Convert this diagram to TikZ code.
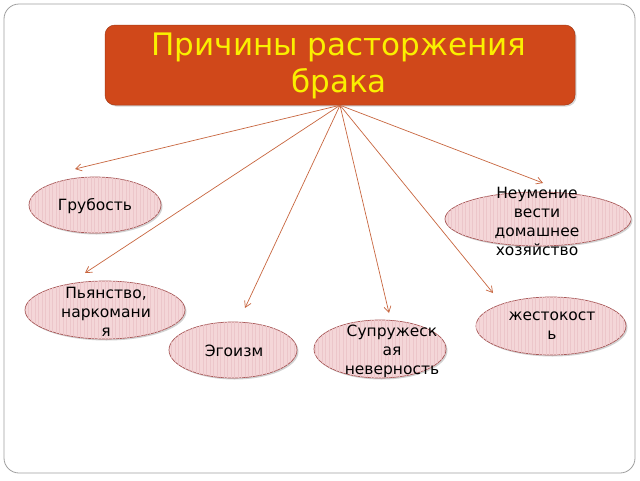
\documentclass[tikz,border=0pt]{standalone}
\usepackage{fontspec}
\setmainfont{DejaVu Sans}
\usetikzlibrary{shapes.geometric,arrows.meta,shadows,patterns.meta}
\definecolor{titlefill}{HTML}{D0481A}
\definecolor{titletext}{HTML}{FAF000}
\definecolor{ellfill}{HTML}{F4D6D8}
\definecolor{ellstripe}{HTML}{ECC6CA}
\definecolor{elledge}{HTML}{A85858}
\definecolor{arrowcol}{HTML}{C8663F}
\definecolor{framecol}{HTML}{A0A0A0}
\tikzset{
  oval/.style={ellipse, draw=elledge, line width=0.7pt, fill=ellfill, inner sep=0pt,
    drop shadow={shadow xshift=1.5pt, shadow yshift=-1.5pt, opacity=0.35},
    postaction={pattern={Lines[angle=90,distance=3.5pt,line width=0.6pt]}, pattern color=ellstripe}},
  ovaltext/.style={align=center, font=\fontsize{15.5}{19}\selectfont, text=black},
  link/.style={draw=arrowcol, line width=0.7pt, -{Straight Barb[length=6pt,width=7pt]}},
}
\begin{document}
\begin{tikzpicture}[x=1pt,y=-1pt]
\useasboundingbox (0,0) rectangle (640,480);
\fill[white] (0,0) rectangle (640,480);
\draw[framecol, line width=0.8pt, rounded corners=15pt] (4,4) rectangle (635,473);

\node[draw=titlefill!80!black, line width=0.5pt, fill=titlefill, rounded corners=10pt,
  minimum width=470pt, minimum height=80pt, inner sep=0pt,
  drop shadow={shadow xshift=1.5pt, shadow yshift=-1.5pt, opacity=0.3}] (title) at (340,65) {};
\node[align=center, text=titletext, font=\fontsize{31}{37}\selectfont] (titletxt) at (339,66)
  {Причины расторжения\\брака};

\node[oval, minimum width=132pt, minimum height=56pt] (e1) at (95,205) {};
\node[oval, minimum width=186pt, minimum height=54pt] (e2) at (538,219) {};
\node[oval, minimum width=160pt, minimum height=58pt] (e3) at (105,310) {};
\node[oval, minimum width=128pt, minimum height=56pt] (e4) at (233,350) {};
\node[oval, minimum width=132pt, minimum height=58pt] (e5) at (380,349) {};
\node[oval, minimum width=150pt, minimum height=58pt] (e6) at (551,326) {};

\node[ovaltext] (t1) at (95,206) {Грубость};
\node[ovaltext] (t2) at (537,221) {Неумение\\вести\\домашнее\\хозяйство};
\node[ovaltext] (t3) at (106,312) {Пьянство,\\наркомани\\я};
\node[ovaltext] (t4) at (234,351) {Эгоизм};
\node[ovaltext] (t5) at (392,351) {Супружеск\\ая\\неверность};
\node[ovaltext] (t6) at (552,326) {жестокост\\ь};

\coordinate (a1) at (75,169);
\coordinate (a2) at (543,183);
\coordinate (a3) at (85,273);
\coordinate (a4) at (245,308);
\coordinate (a5) at (389,313);
\coordinate (a6) at (493,293);

\foreach \t in {a1,a2,a3,a4,a5,a6}
  \draw[link] (title.south) -- (\t);
\end{tikzpicture}
\end{document}
